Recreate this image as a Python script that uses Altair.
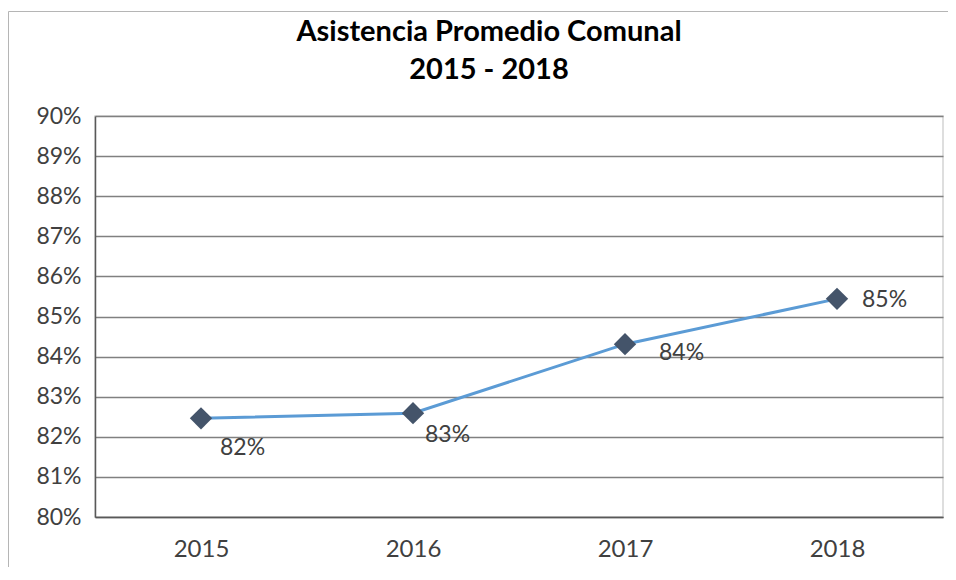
import altair as alt
import pandas as pd

years = ["2015", "2016", "2017", "2018"]
attendance = [0.8246, 0.8259, 0.8431, 0.8544]
y_ticks = [0.80, 0.81, 0.82, 0.83, 0.84, 0.85, 0.86, 0.87, 0.88, 0.89, 0.90]

# label offsets (style only)
label_dx = [19, 12, 34, 25]
label_dy = [30, 22, 9, 1]

df = pd.DataFrame({"year": years, "value": attendance})

FONT = "Lato"
base = alt.Chart(df)

x_enc = alt.X("year:N", title=None,
              scale=alt.Scale(type="point", padding=0.5),
              axis=alt.Axis(labelAngle=0, ticks=False, labelPadding=20,
                            labelFontSize=24, labelColor="#404040",
                            labelFont=FONT, domainColor="#595959",
                            domainWidth=1.5, grid=False))
y_enc = alt.Y("value:Q", title=None,
              scale=alt.Scale(domain=[0.80, 0.90], nice=False, zero=False),
              axis=alt.Axis(values=y_ticks, format=".0%", ticks=False,
                            labelPadding=14, labelFontSize=23,
                            labelColor="#404040", labelFont=FONT,
                            domainColor="#595959", domainWidth=1.5,
                            grid=True, gridColor="#808080", gridWidth=1.5))

frame = alt.Chart(alt.Data(values=[{"a": 1}])).mark_rect(
    fill="white", fillOpacity=0, stroke="#b5b5b5", strokeWidth=1
).encode(x=alt.value(-86.5), x2=alt.value(1200),
         y=alt.value(-104.5), y2=alt.value(800))

line = base.mark_line(color="#5B9BD5", strokeWidth=3).encode(x=x_enc, y=y_enc)
points = base.mark_point(shape="diamond", filled=True, size=500,
                         color="#44546A", opacity=1).encode(x="year:N", y="value:Q")

labels = []
for yr, dx, dy in zip(years, label_dx, label_dy):
    labels.append(
        base.transform_filter(alt.datum.year == yr).mark_text(
            align="left", baseline="middle", dx=dx, dy=dy,
            fontSize=23, font=FONT, color="#404040"
        ).encode(x="year:N", y="value:Q", text=alt.Text("value:Q", format=".0%"))
    )

chart = alt.layer(frame, line, points, *labels).properties(
    width=848, height=401,
    title=alt.TitleParams(
        text=["Asistencia Promedio Comunal", "2015 - 2018"],
        font=FONT, fontSize=29, fontWeight="bold", color="#000000",
        lineHeight=38, anchor="middle", dx=-30, offset=-97,
        baseline="alphabetic"),
    autosize=alt.AutoSizeParams(type="none"),
    padding={"left": 87, "top": 108, "right": 5, "bottom": 50},
).configure_view(stroke="#d4d4d4", strokeWidth=1.5)

chart.save("out.html", embed_options={"renderer": "svg", "actions": False})
